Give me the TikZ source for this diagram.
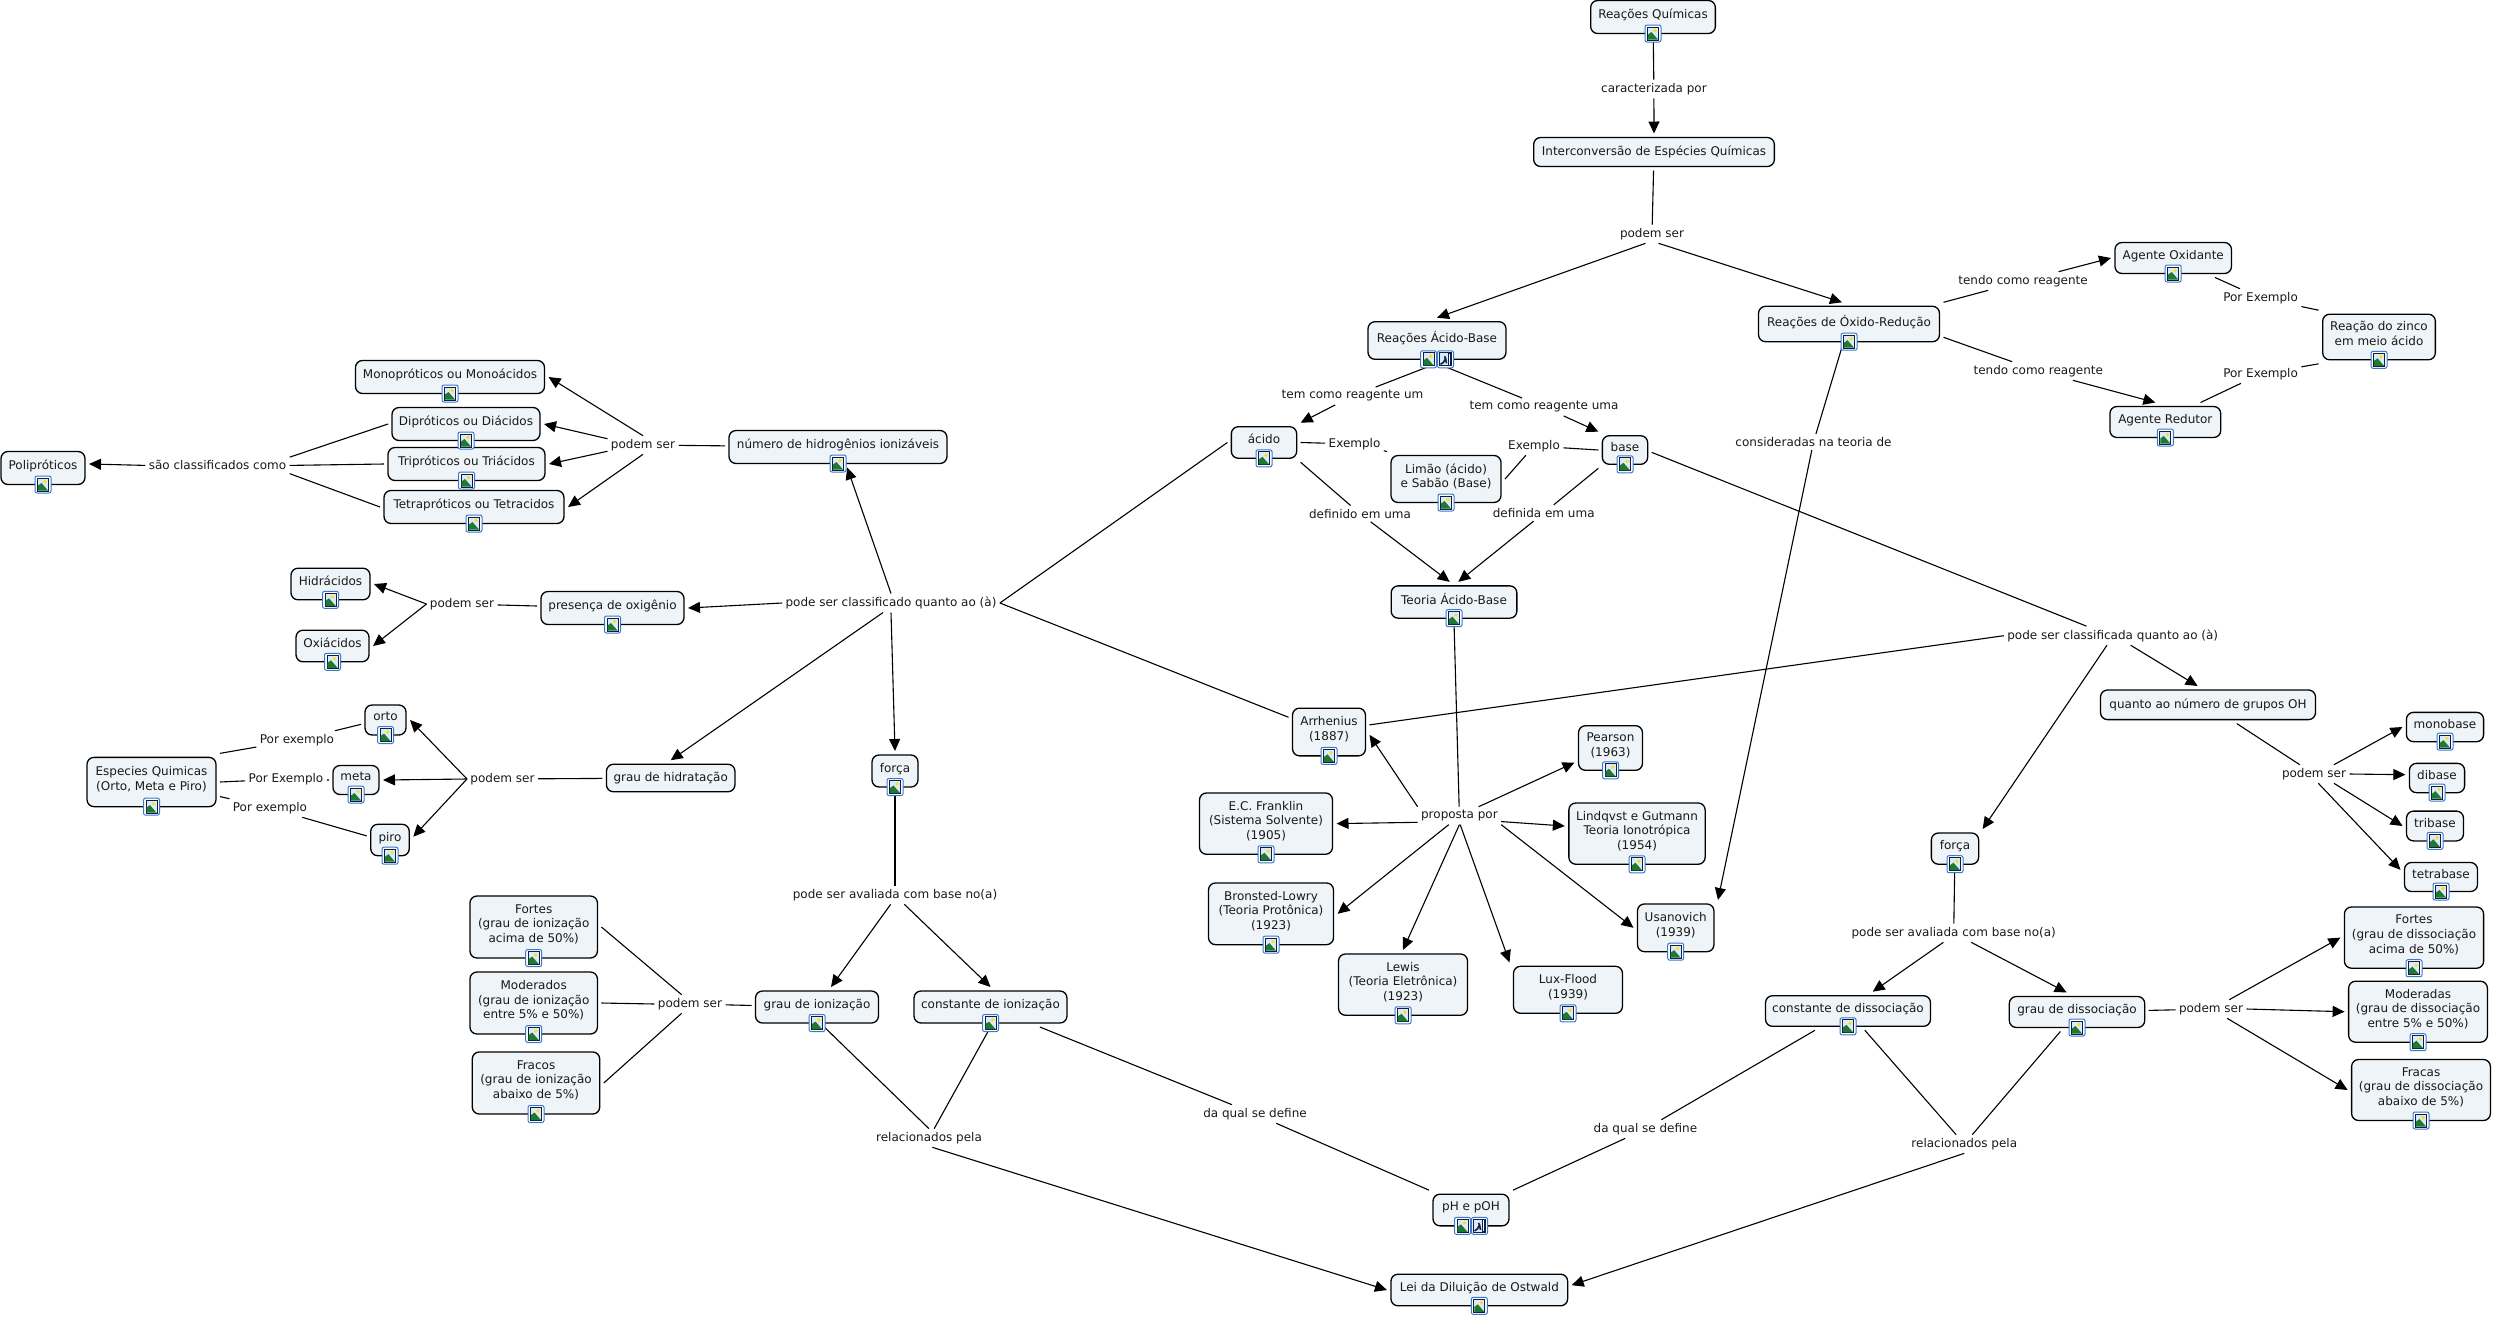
\documentclass[tikz,border=0pt]{standalone}
\usepackage{fontspec}
\setmainfont{DejaVu Sans}
\usepackage{tikz}
\usetikzlibrary{arrows.meta}
\definecolor{kfill}{HTML}{EEF4F7}
\definecolor{icoblue}{HTML}{3C78C8}
\definecolor{icosky}{HTML}{DDE8FA}
\definecolor{icogreen}{HTML}{1F7A30}
\definecolor{icodark}{HTML}{0B1F4B}
\tikzset{
  imgico/.pic={
    \draw[icoblue,fill=white,rounded corners=2pt,line width=1pt] (-8,-8.5) rectangle (8,8.5);
    \draw[icodark,fill=icosky,line width=1pt] (-5.5,-6.5) rectangle (5.5,6.5);
    \fill[icogreen] (-5,6) -- (-5,1) -- (-1.5,-1.5) -- (5,6) -- cycle;
    \fill[yellow!85!orange] (2,-3) circle (1.8);
  },
  runico/.pic={
    \draw[icoblue,fill=white,rounded corners=2pt,line width=1pt] (-8,-8.5) rectangle (8,8.5);
    \draw[icodark,fill=icosky,line width=.8pt] (-6,-6.5) rectangle (6,6.5);
    \draw[icodark,line width=1.6pt] (-5,5) -- (-2,3) -- (0,-1) -- (-1,-3);
    \draw[icodark,line width=1.6pt] (0,-1) -- (1,4);
    \draw[icodark,line width=.8pt,fill=white] (2.5,-6) rectangle (5,6);
  }
}
\begin{document}
\begin{tikzpicture}[x=1pt,y=-1pt,line width=1.1pt,
  k/.style={rectangle,draw=black,fill=kfill,rounded corners=7pt,line width=1.3pt,align=center,inner sep=0pt,outer sep=4pt,text=black!90,font=\fontsize{12}{14.6}\selectfont},
  kp/.style={k,text depth=7pt},
  wh/.style 2 args={minimum width=#1pt,minimum height=#2pt},
  lb/.style={rectangle,inner sep=1pt,outer sep=2.5pt,align=center,text=black!90,font=\fontsize{12}{14.6}\selectfont},
  ar/.style={-{Triangle[length=12pt,width=11pt]}}]
  \useasboundingbox (0,0) rectangle (2493,1318);

  % concepts, top block
  \node[kp,wh={124.7}{33}] (rq) at (1653,17) {Reações Químicas};
  \node[k,wh={240.7}{29}] (ie) at (1654,152) {Interconversão de Espécies Químicas};
  \node[kp,wh={138}{37.6}] (rab) at (1437,340.5) {Reações Ácido-Base};
  \node[kp,wh={181}{35.4}] (rox) at (1849,324) {Reações de Óxido-Redução};
  \node[kp,wh={116.5}{31}] (oxid) at (2173.2,258) {Agente Oxidante};
  \node[kp,wh={110.8}{31}] (redu) at (2165.3,422) {Agente Redutor};
  \node[kp,wh={112.7}{45.6}] (zinc) at (2379,337) {Reação do zinco\\em meio ácido};
  \node[kp,wh={65.3}{31.6}] (acid) at (1264,442.5) {ácido};
  \node[kp,wh={45.3}{28.6}] (base) at (1625,450) {base};
  \node[kp,wh={110}{47}] (lim) at (1446,479) {Limão (ácido)\\e Sabão (Base)};
  \node[kp,wh={125.7}{32.3}] (teo) at (1454,602) {Teoria Ácido-Base};

  % concepts, acid classes
  \node[kp,wh={218}{33}] (nhi) at (838,447) {número de hidrogênios ionizáveis};
  \node[kp,wh={189}{33}] (mono) at (450,377) {Monopróticos ou Monoácidos};
  \node[kp,wh={148}{33}] (dip) at (466,424) {Dipróticos ou Diácidos};
  \node[kp,wh={157}{33}] (tri) at (466.5,464) {Tripróticos ou Triácidos};
  \node[kp,wh={180}{33}] (tet) at (474,507) {Tetrapróticos ou Tetracidos};
  \node[kp,wh={84}{33}] (pol) at (43,468) {Polipróticos};
  \node[kp,wh={143}{33}] (pres) at (612.5,608) {presença de oxigênio};
  \node[kp,wh={79}{31.6}] (hid) at (330.5,584) {Hidrácidos};
  \node[kp,wh={73}{31.6}] (oxi) at (332.5,646) {Oxiácidos};
  \node[k,wh={128.5}{27.5}] (ghi) at (670.7,778) {grau de hidratação};
  \node[kp,wh={41}{30}] (ort) at (385.5,720) {orto};
  \node[kp,wh={46}{29}] (met) at (356,780) {meta};
  \node[kp,wh={38.5}{31.4}] (pir) at (390,840) {piro};
  \node[kp,wh={129}{49.3}] (esp) at (151.5,782) {Especies Quimicas\\(Orto, Meta e Piro)};
  \node[kp,wh={46}{32}] (fol) at (895,771) {força};
  \node[kp,wh={127.5}{62}] (fti) at (533.7,927) {Fortes\\(grau de ionização\\acima de 50\%)};
  \node[kp,wh={127.5}{62}] (mdi) at (533.7,1003) {Moderados\\(grau de ionização\\entre 5\% e 50\%)};
  \node[kp,wh={127.5}{62}] (fri) at (536,1083) {Fracos\\(grau de ionização\\abaixo de 5\%)};
  \node[kp,wh={123}{32}] (gio) at (817,1007) {grau de ionização};
  \node[kp,wh={153}{32}] (cio) at (990.5,1007) {constante de ionização};

  % concepts, theories
  \node[kp,wh={73}{47.7}] (arr) at (1329,732) {Arrhenius\\(1887)};
  \node[kp,wh={64}{44.6}] (pea) at (1610.5,748) {Pearson\\(1963)};
  \node[kp,wh={133}{61.3}] (fra) at (1266,823.6) {E.C. Franklin\\(Sistema Solvente)\\(1905)};
  \node[kp,wh={136.3}{61.3}] (lin) at (1637,833.6) {Lindqvst e Gutmann\\Teoria Ionotrópica\\(1954)};
  \node[kp,wh={125}{61.7}] (bro) at (1271,913.8) {Bronsted-Lowry\\(Teoria Protônica)\\(1923)};
  \node[kp,wh={76.5}{47.7}] (usa) at (1675.7,927.8) {Usanovich\\(1939)};
  \node[kp,wh={129}{61.3}] (lew) at (1403,984.6) {Lewis\\(Teoria Eletrônica)\\(1923)};
  \node[kp,wh={109}{47}] (lux) at (1568,989.8) {Lux-Flood\\(1939)};

  % concepts, bases
  \node[k,wh={215}{29.6}] (qoh) at (2208,704.8) {quanto ao número de grupos OH};
  \node[kp,wh={77.2}{29.3}] (mob) at (2445,727) {monobase};
  \node[kp,wh={55.2}{29.3}] (dib) at (2437,778) {dibase};
  \node[kp,wh={57}{29.8}] (trb) at (2435,826) {tribase};
  \node[kp,wh={73}{29}] (teb) at (2441,877) {tetrabase};
  \node[kp,wh={47.3}{31.2}] (for) at (1955,848.6) {força};
  \node[kp,wh={139.2}{61.2}] (ftd) at (2414,937.6) {Fortes\\(grau de dissociação\\acima de 50\%)};
  \node[kp,wh={138.8}{61}] (mdd) at (2418,1011.7) {Moderadas\\(grau de dissociação\\entre 5\% e 50\%)};
  \node[kp,wh={138.8}{61}] (frd) at (2421,1090) {Fracas\\(grau de dissociação\\abaixo de 5\%)};
  \node[kp,wh={135.4}{31}] (gds) at (2077,1012) {grau de dissociação};
  \node[kp,wh={165}{30.6}] (cds) at (1848,1011) {constante de dissociação};
  \node[kp,wh={76}{31.7}] (ph) at (1471,1210) {pH e pOH};
  \node[kp,wh={176.7}{31.6}] (lei) at (1479.3,1290) {Lei da Diluição de Ostwald};

  % linking phrases
  \node[lb] (lcar) at (1653.9,89) {caracterizada por};
  \node[lb] (lps) at (1652,234) {podem ser};
  \node[lb] (ltr1) at (2023,281) {tendo como reagente};
  \node[lb] (ltr2) at (2038.3,371) {tendo como reagente};
  \node[lb] (lpa) at (2260.6,298) {Por Exemplo};
  \node[lb] (lpb) at (2260.6,374) {Por Exemplo};
  \node[lb] (lcon) at (1813.5,442) {consideradas na teoria de};
  \node[lb] (ltum) at (1352.5,396) {tem como reagente um};
  \node[lb] (ltua) at (1544,407) {tem como reagente uma};
  \node[lb] (lexa) at (1354.5,444) {Exemplo};
  \node[lb] (lexb) at (1534,446) {Exemplo};
  \node[lb] (ldfo) at (1360,513.7) {definido em uma};
  \node[lb] (ldfa) at (1543.7,513) {definida em uma};
  \node[lb] (lcfo) at (891,603) {pode ser classificado quanto ao (à)};
  \node[lb] (lcfa) at (2112.7,635.7) {pode ser classificada quanto ao (à)};
  \node[lb] (lsc) at (217.5,465.4) {são classificados como};
  \node[lb] (lpn) at (643,445) {podem ser};
  \node[lb] (lpo) at (462,604) {podem ser};
  \node[lb] (lph) at (502.5,779) {podem ser};
  \node[lb] (lex1) at (297,740) {Por exemplo};
  \node[lb] (lex2) at (286,779) {Por Exemplo};
  \node[lb] (lex3) at (270,808) {Por exemplo};
  \node[lb] (lavo) at (895,895) {pode ser avaliada com base no(a)};
  \node[lb] (lpg) at (690,1004) {podem ser};
  \node[lb] (lrlo) at (929,1138) {relacionados pela};
  \node[lb] (ldqo) at (1255,1114) {da qual se define};
  \node[lb] (lprp) at (1459.4,815.7) {proposta por};
  \node[lb] (lava) at (1953.7,933) {pode ser avaliada com base no(a)};
  \node[lb] (lpu) at (2314,774) {podem ser};
  \node[lb] (lpd) at (2211,1009) {podem ser};
  \node[lb] (lrla) at (1964.3,1144) {relacionados pela};
  \node[lb] (ldqa) at (1645.4,1129) {da qual se define};

  % top of the map
  \draw (rq) -- (lcar);
  \draw[ar] (lcar) -- (ie);
  \draw (ie) -- (lps);
  \draw[ar] (lps.-125) -- (rab.north);
  \draw[ar] (lps.-55) -- (rox.108);
  \draw (rab.south) -- (ltum);
  \draw[ar] (ltum) -- (acid.north east);
  \draw (rab.south) -- (ltua);
  \draw[ar] (ltua) -- (base.north west);
  \draw (acid.east) -- (lexa);
  \draw (lexa) -- (lim.north west);
  \draw (base.west) -- (lexb);
  \draw (lexb) -- (lim.east);
  \draw (acid.south east) -- (ldfo);
  \draw[ar] (ldfo) -- (teo.102);
  \draw (base.south west) -- (ldfa);
  \draw[ar] (ldfa) -- (teo.78);
  \draw (rox.north east) -- (ltr1);
  \draw[ar] (ltr1) -- (oxid.west);
  \draw (rox.-8) -- (ltr2);
  \draw[ar] (ltr2) -- (redu.117);
  \draw (oxid.-25) -- (lpa);
  \draw (lpa) -- (zinc.north west);
  \draw (zinc.south west) -- (lpb);
  \draw (lpb) -- (redu.29);
  \draw (rox.-107) -- (lcon);
  \draw[ar] (lcon) -- (usa.north east);

  % theories
  \draw (teo.south) -- (lprp);
  \draw[ar] (lprp.north west) -- (arr.-4);
  \draw[ar] (lprp.-171) -- (fra.east);
  \draw[ar] (lprp.-140) -- (bro.east);
  \draw[ar] (lprp.south) -- (lew.north);
  \draw[ar] (lprp.-85) -- (lux.north west);
  \draw[ar] (lprp.south east) -- (usa.west);
  \draw[ar] (lprp.-8) -- (lin.174);
  \draw[ar] (lprp.25) -- (pea.-158);

  % acid classes
  \draw (acid.west) -- (lcfo.east);
  \draw (arr.160) -- (lcfo.east);
  \draw[ar] (lcfo.north) -- (nhi.-66);
  \draw[ar] (lcfo.west) -- (pres.east);
  \draw[ar] (lcfo.-130) -- (ghi.north);
  \draw[ar] (lcfo.south) -- (fol.north);
  \draw (nhi) -- (lpn);
  \draw[ar] (lpn.north) -- (mono.east);
  \draw[ar] (lpn.170) -- (dip.east);
  \draw[ar] (lpn.190) -- (tri.east);
  \draw[ar] (lpn.south) -- (tet.east);
  \draw (dip.west) -- (lsc.north east);
  \draw (tri.west) -- (lsc.east);
  \draw (tet.west) -- (lsc.south east);
  \draw[ar] (lsc.west) -- (pol.5);
  \draw (pres) -- (lpo);
  \draw[ar] (lpo.west) -- (hid.east);
  \draw[ar] (lpo.west) -- (oxi.east);
  \draw (ghi) -- (lph);
  \draw[ar] (lph.west) -- (ort.east);
  \draw[ar] (lph.west) -- (met.east);
  \draw[ar] (lph.west) -- (pir.8);
  \draw (esp.north east) -- (lex1);
  \draw (lex1) -- (ort.-170);
  \draw (esp.east) -- (lex2);
  \draw (lex2) -- (met.west);
  \draw (esp.-12) -- (lex3);
  \draw (lex3) -- (pir.170);
  \draw (fol) -- (lavo);
  \draw[ar] (lavo.-115) -- (gio.55);
  \draw[ar] (lavo.-45) -- (cio.north);
  \draw (gio) -- (lpg);
  \draw (lpg.132) -- (fti.east);
  \draw (lpg.west) -- (mdi.east);
  \draw (lpg.-132) -- (fri.east);
  \draw (gio.-70) -- (lrlo.north);
  \draw (cio.south) -- (lrlo);
  \draw[ar] (lrlo.-70) -- (lei.west);
  \draw (cio) -- (ldqo);
  \draw (ldqo) -- (ph.north west);

  % bases
  \draw (base.-5) -- (lcfa.160);
  \draw (arr.10) -- (lcfa.west);
  \draw[ar] (lcfa.-28) -- (qoh.119);
  \draw[ar] (lcfa.-121) -- (for.north east);
  \draw (qoh) -- (lpu);
  \draw[ar] (lpu.25) -- (mob.west);
  \draw[ar] (lpu.east) -- (dib.174);
  \draw[ar] (lpu.-25) -- (trb.west);
  \draw[ar] (lpu.-65) -- (teb.170);
  \draw (for) -- (lava);
  \draw[ar] (lava.-138) -- (cds.38);
  \draw[ar] (lava.-28) -- (gds.118);
  \draw (gds) -- (lpd);
  \draw[ar] (lpd.27) -- (ftd.west);
  \draw[ar] (lpd.east) -- (mdd.west);
  \draw[ar] (lpd.-30) -- (frd.west);
  \draw (cds) -- (lrla);
  \draw (gds) -- (lrla);
  \draw[ar] (lrla.south) -- (lei.3);
  \draw (cds) -- (ldqa);
  \draw (ldqa) -- (ph.north east);

  % image buttons
  \foreach \n in {rq,rox,oxid,redu,zinc,acid,base,lim,teo,nhi,mono,dip,tri,tet,pol,pres,hid,oxi,ort,met,pir,esp,fol,fti,mdi,fri,gio,cio,arr,pea,fra,lin,bro,usa,lew,lux,mob,dib,trb,teb,for,ftd,mdd,frd,gds,cds,lei}
    \pic at ([yshift=4pt]\n.south) {imgico};
  \pic at ([xshift=-8.5pt,yshift=4pt]rab.south) {imgico};
  \pic at ([xshift=8.5pt,yshift=4pt]rab.south) {runico};
  \pic at ([xshift=-8.5pt,yshift=4pt]ph.south) {imgico};
  \pic at ([xshift=8.5pt,yshift=4pt]ph.south) {runico};
\end{tikzpicture}
\end{document}
